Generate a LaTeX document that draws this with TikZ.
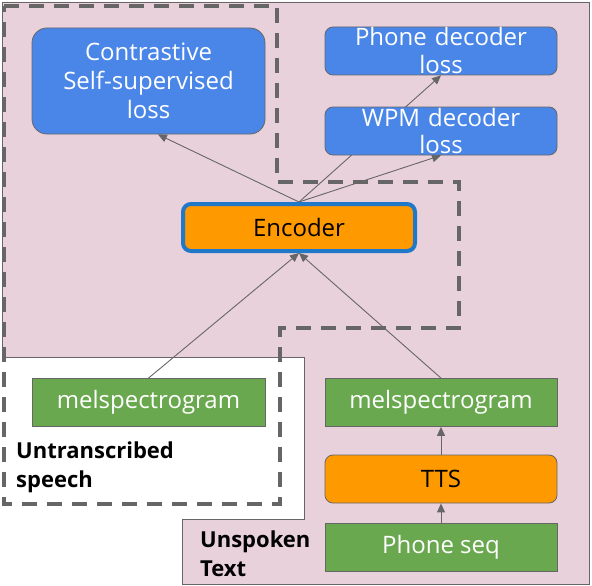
\documentclass[tikz,border=0pt]{standalone}
\usepackage{fontspec}
\setmainfont{Open Sans}
\usetikzlibrary{arrows.meta}
\definecolor{bgpink}{RGB}{233,209,220}
\definecolor{boxblue}{RGB}{74,134,232}
\definecolor{boxgreen}{RGB}{106,168,79}
\definecolor{boxorange}{RGB}{255,153,0}
\definecolor{encblue}{RGB}{31,120,200}
\definecolor{linegray}{RGB}{102,102,102}
\pgfdeclarelayer{background}
\pgfsetlayers{background,main}

\begin{document}
\begin{tikzpicture}[x=1pt, y=-1pt,
  lossbox/.style={rectangle, rounded corners=8pt, draw=linegray, fill=boxblue, text=white, minimum width=232pt, minimum height=48pt, inner sep=0pt, text width=232pt, align=center, font=\fontsize{24}{28}\selectfont, line width=0.8pt},
  featbox/.style={rectangle, draw=linegray, fill=boxgreen, text=white, minimum width=232pt, minimum height=48pt, inner sep=0pt, font=\fontsize{24}{28}\selectfont, line width=0.8pt},
  procbox/.style={rectangle, rounded corners=8pt, draw=linegray, fill=boxorange, text=black, minimum width=232pt, minimum height=48pt, inner sep=0pt, font=\fontsize{24}{28}\selectfont, line width=0.8pt},
  grouplabel/.style={anchor=north west, align=left, inner sep=0pt, font=\bfseries\fontsize{22}{29}\selectfont},
  arr/.style={-{Triangle[length=9pt,width=8pt]}, draw=linegray, line width=0.9pt},
  region/.style={draw=linegray, dash pattern=on 15pt off 10pt, line width=3.5pt}
]
\useasboundingbox (0,0) rectangle (592,586);

% losses
\node[lossbox, rounded corners=15pt, minimum width=233pt, text width=233pt, minimum height=106pt, font=\fontsize{24}{29}\selectfont] (contr) at (148.5,81) {Contrastive\\Self-supervised\\loss};
\node[lossbox] (phone) at (441,51) {Phone decoder\\loss};
\node[lossbox] (wpm) at (441,131) {WPM decoder\\loss};

% encoder
\node[procbox, draw=encblue, line width=4pt, minimum width=232pt, minimum height=47pt] (enc) at (299,227.5) {Encoder};

% inputs
\node[featbox, minimum width=233pt] (melL) at (148.5,402.5) {melspectrogram};
\node[featbox] (melR) at (441,402.5) {melspectrogram};
\node[procbox] (tts) at (441,479) {TTS};
\node[featbox] (phseq) at (441,547) {Phone seq};

\node[grouplabel] (speech) at (16,442) {Untranscribed\\speech};
\node[grouplabel] (text) at (200,531) {Unspoken\\Text};

\begin{pgfonlayer}{background}
\fill[bgpink, draw=linegray, line width=0.8pt] (2,2) -- (589,2) -- (589,584) -- (182,584) -- (182,519) -- (304,519) -- (304,357) -- (2,357) -- cycle;
\draw[region] (4,6) -- (277,6) -- (277,182) -- (459,182) -- (459,328) -- (280,328) -- (280,504) -- (4,504) -- cycle;

\draw[arr] (enc.north) -- (contr.-80);
\draw[arr] (enc.north) -- (phone.south);
\draw[arr] (enc.north) -- (wpm.south);
\draw[arr] (melL.north) -- (enc.south);
\draw[arr] (melR.north) -- (enc.south);
\draw[arr] (tts) -- (melR);
\draw[arr] (phseq) -- (tts);
\end{pgfonlayer}
\end{tikzpicture}
\end{document}
